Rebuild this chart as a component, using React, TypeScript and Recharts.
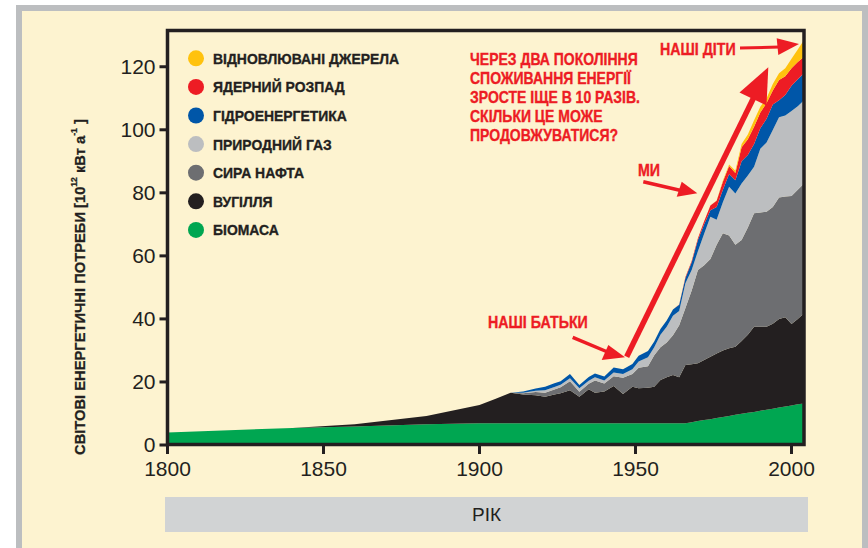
import React from 'react';
import { AreaChart, Area, XAxis, YAxis } from 'recharts';

const years = [1800, 1840, 1860, 1883, 1900, 1905, 1910, 1914, 1918, 1921, 1924, 1926, 1929, 1932, 1935, 1937, 1940, 1943, 1946, 1949, 1951, 1954, 1956, 1958, 1960, 1962, 1964, 1966, 1968, 1970, 1972, 1974, 1976, 1978, 1980, 1982, 1984, 1986, 1988, 1990, 1992, 1994, 1996, 1998, 2000, 2002, 2004];
const biomass = [4.0, 5.4, 5.9, 6.6, 6.9, 6.9, 6.9, 6.9, 6.9, 6.9, 6.9, 6.9, 6.9, 6.9, 6.9, 6.9, 6.9, 6.9, 6.9, 6.9, 6.9, 6.9, 6.9, 6.9, 6.9, 6.9, 6.9, 6.9, 7.2, 7.6, 7.9, 8.2, 8.6, 8.9, 9.2, 9.6, 9.9, 10.2, 10.5, 10.9, 11.2, 11.5, 11.9, 12.2, 12.5, 12.9, 13.2];
const coal = [0, 0, 0.7, 2.6, 5.8, 7.7, 9.7, 9.1, 8.9, 8.4, 9.1, 9.5, 10.5, 8.4, 10.8, 9.7, 10.1, 11.8, 9.3, 11.6, 11.1, 11.3, 11.6, 13.7, 14.6, 15.3, 14.6, 18.5, 18.4, 18.3, 19.1, 19.8, 20.4, 21.1, 21.5, 21.6, 23.1, 24.8, 27.0, 26.6, 26.3, 27.0, 28.1, 28.3, 25.9, 27.1, 28.6];
const oil = [0, 0, 0, 0, 0, 0, 0, 0.4, 1.0, 1.3, 1.6, 1.9, 2.8, 1.6, 1.7, 3.9, 2.5, 3.1, 5.1, 4.0, 6.5, 6.8, 10.0, 10.4, 11.0, 12.6, 16.5, 18.1, 23.4, 29.6, 30.0, 31.0, 34.5, 37.2, 35.8, 32.3, 32.0, 34.0, 36.0, 36.3, 36.5, 37.0, 38.5, 38.3, 40.6, 41.0, 41.2];
const gas = [0, 0, 0, 0, 0, 0, 0, 0.2, 0.4, 0.8, 0.8, 0.8, 1.0, 1.1, 1.0, 1.0, 1.0, 1.2, 1.2, 1.5, 2.0, 2.8, 2.5, 4.0, 5.0, 6.2, 4.5, 7.8, 6.5, 6.0, 10.0, 13.4, 8.0, 9.8, 15.4, 16.3, 18.0, 16.5, 14.8, 20.2, 22.0, 24.4, 25.5, 25.7, 27.0, 26.5, 26.4];
const hydro = [0, 0, 0, 0, 0, 0, 0, 0.4, 0.7, 1.1, 1.2, 1.1, 1.3, 1.0, 1.2, 1.2, 1.2, 1.6, 1.5, 1.7, 1.8, 2.0, 1.8, 1.8, 2.0, 2.0, 2.0, 1.7, 2.5, 3.5, 3.0, 2.1, 4.0, 4.0, 4.1, 4.2, 7.0, 6.5, 7.2, 6.5, 7.5, 8.1, 5.4, 6.5, 8.0, 8.5, 8.6];
const nuclear = [0, 0, 0, 0, 0, 0, 0, 0, 0, 0, 0, 0, 0, 0, 0, 0, 0, 0, 0, 0, 0, 0, 0, 0, 0, 0, 0.1, 0.3, 0.4, 0.6, 1.0, 1.5, 2.0, 2.5, 2.5, 2.3, 4.5, 5.0, 5.5, 5.0, 5.0, 4.5, 6.4, 6.0, 5.5, 5.5, 5.2];
const renewables = [0, 0, 0, 0, 0, 0, 0, 0, 0, 0, 0, 0, 0, 0, 0, 0, 0, 0, 0, 0, 0, 0, 0, 0, 0, 0, 0, 0, 0, 0, 0, 0, 0.1, 0.3, 0.5, 0.7, 1.0, 1.5, 2.0, 1.8, 1.5, 2.0, 2.1, 2.5, 3.0, 4.0, 5.3];

const seriesKeys = ['biomass', 'coal', 'oil', 'gas', 'hydro', 'nuclear', 'renewables'];
const seriesNames = ['БІОМАСА', 'ВУГІЛЛЯ', 'СИРА НАФТА', 'ПРИРОДНИЙ ГАЗ', 'ГІДРОЕНЕРГЕТИКА', 'ЯДЕРНИЙ РОЗПАД', 'ВІДНОВЛЮВАНІ ДЖЕРЕЛА'];
const seriesColors = ['#00a651', '#231f20', '#6d6e71', '#bcbec0', '#0056a8', '#ed1c24', '#ffc20e'];
const seriesValues = [biomass, coal, oil, gas, hydro, nuclear, renewables];

const xTicks = [1800, 1850, 1900, 1950, 2000];
const yTicks = [0, 20, 40, 60, 80, 100, 120];

const noteLines = ['ЧЕРЕЗ ДВА ПОКОЛІННЯ', 'СПОЖИВАННЯ ЕНЕРГІЇ', 'ЗРОСТЕ ІЩЕ В 10 РАЗІВ.', 'СКІЛЬКИ ЦЕ МОЖЕ', 'ПРОДОВЖУВАТИСЯ?'];
const labelKids = 'НАШІ ДІТИ';
const labelUs = 'МИ';
const labelParents = 'НАШІ БАТЬКИ';
const xAxisTitle = 'РІК';

const data = years.map((y, i) => {
  const row: any = { year: y };
  seriesKeys.forEach((k, j) => { row[k] = seriesValues[j][i]; });
  return row;
});

const CREAM = '#fdf3d0';
const INK = '#231f20';
const RED = '#ed1c24';
const BOLD = "'Liberation Sans', Arial, sans-serif";
const REG = "'Liberation Sans', Arial, sans-serif";

function NText({ x, y, sx, size, color, children }: any) {
  return (
    <text transform={`translate(${x},${y}) scale(${sx},1)`} fontFamily={BOLD} fontWeight="bold"
      fontSize={size} fill={color} stroke={color} strokeWidth={0.35}>{children}</text>
  );
}

export default function App() {
  return (
    <div style={{ position: 'absolute', left: 0, top: 0, width: 868, height: 548, background: '#ffffff', overflow: 'hidden' }}>
      <div style={{ position: 'absolute', left: 16, top: 5, width: 852, height: 543, background: '#bcbec0' }} />
      <div style={{ position: 'absolute', left: 22, top: 11, width: 840, height: 537, background: CREAM }} />
      <div style={{ position: 'absolute', left: 165, top: 497, width: 643, height: 35, background: '#d1d3d4', display: 'flex', alignItems: 'center', justifyContent: 'center', fontFamily: REG, fontSize: 19, color: INK }}>
        {xAxisTitle}
      </div>
      <div style={{ position: 'absolute', left: 0, top: 0 }}>
        <AreaChart width={868} height={548} data={data} margin={{ top: 30.5, right: 64, left: 107.5, bottom: 73 }}>
          <XAxis dataKey="year" type="number" domain={[1800, 2004]} ticks={xTicks} allowDataOverflow
            height={30} tickSize={9} tickMargin={7} axisLine={false}
            tickLine={{ stroke: INK, strokeWidth: 3 }}
            tick={{ fill: INK, fontSize: 21, fontFamily: REG }} />
          <YAxis type="number" domain={[0, 131.5]} ticks={yTicks} allowDataOverflow
            width={60} tickSize={8} tickMargin={4} axisLine={false}
            tickLine={{ stroke: INK, strokeWidth: 3 }}
            tick={{ fill: INK, fontSize: 21, fontFamily: REG }} />
          {seriesKeys.map((k, j) => (
            <Area key={k} type="linear" dataKey={k} stackId="1" name={seriesNames[j]}
              stroke="none" fill={seriesColors[j]} fillOpacity={1} isAnimationActive={false} />
          ))}
        </AreaChart>
      </div>
      <svg width={868} height={548} style={{ position: 'absolute', left: 0, top: 0, pointerEvents: 'none' }}>
        <rect x={167.5} y={30.5} width={636.5} height={414} fill="none" stroke={INK} strokeWidth={3.5} />
        {/* legend */}
        {seriesKeys.map((k, j) => {
          const idx = seriesKeys.length - 1 - j;
          const cy = 58.3 + j * 28.6;
          return (
            <g key={k}>
              <circle cx={196} cy={cy} r={8} fill={seriesColors[idx]} />
              <NText x={213} y={cy + 5.5} sx={0.9} size={15.5} color={INK}>{seriesNames[idx]}</NText>
            </g>
          );
        })}
        {/* y axis title */}
        <text transform="translate(85,455) rotate(-90) scale(0.95,1)" fontFamily={BOLD} fontWeight="bold" fontSize={15.5} fill={INK} stroke={INK} strokeWidth={0.3}>
          <tspan>СВІТОВІ ЕНЕРГЕТИЧНІ ПОТРЕБИ  [10</tspan>
          <tspan fontSize={9} dy={-8}>12</tspan>
          <tspan dy={8}> кВт а</tspan>
          <tspan fontSize={9} dy={-8}>-1</tspan>
          <tspan dy={8}> ]</tspan>
        </text>
        {/* notes */}
        {noteLines.map((t, i) => (
          <NText key={i} x={470} y={[59.3, 78.3, 97.3, 116.7, 135.3][i] + 5.7} sx={0.875} size={16} color={RED}>{t}</NText>
        ))}
        <NText x={660} y={55.2} sx={0.89} size={16} color={RED}>{labelKids}</NText>
        <NText x={638} y={175.7} sx={0.89} size={16} color={RED}>{labelUs}</NText>
        <NText x={488} y={328} sx={0.89} size={16} color={RED}>{labelParents}</NText>
        {/* arrows */}
        <line x1={740} y1={48} x2={780} y2={47} stroke={RED} strokeWidth={3} />
        <polygon points="776.7,38.3 799,44 778.3,55" fill={RED} />
        <line x1={643.3} y1={181.7} x2={683} y2={191} stroke={RED} strokeWidth={3.5} />
        <polygon points="681.7,181.7 697.3,193.3 676.7,196.7" fill={RED} />
        <line x1={572.7} y1={337.3} x2={610} y2={353} stroke={RED} strokeWidth={3.5} />
        <polygon points="608.3,345 625,357.3 601.7,360" fill={RED} />
        <line x1={626.7} y1={356.7} x2={755} y2={95} stroke={RED} strokeWidth={5.5} />
        <polygon points="739.5,92.5 768.3,67.3 766.5,105.5" fill={RED} />
      </svg>
    </div>
  );
}
